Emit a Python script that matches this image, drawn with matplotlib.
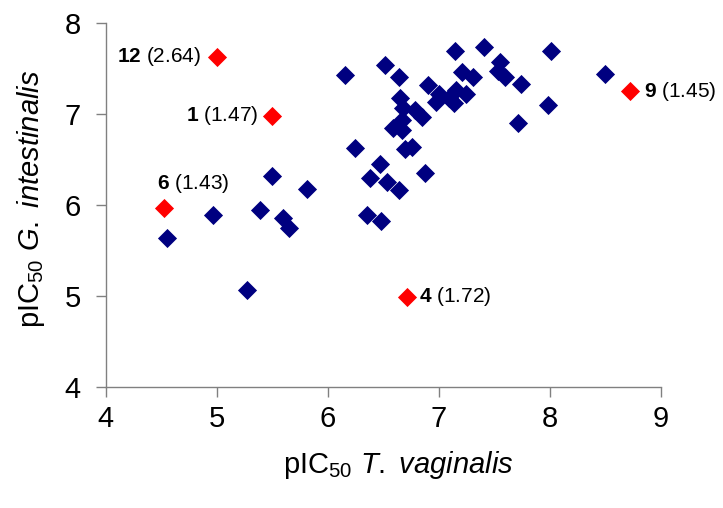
import matplotlib.pyplot as plt

plt.rcParams['font.family'] = ['Liberation Sans', 'DejaVu Sans']
plt.rcParams['mathtext.fontset'] = 'custom'
plt.rcParams['mathtext.rm'] = 'Liberation Sans'
plt.rcParams['mathtext.it'] = 'Liberation Sans:italic'
plt.rcParams['mathtext.bf'] = 'Liberation Sans:bold'

# other compounds (pIC50 T. vaginalis, pIC50 G. intestinalis)
tv = [6.16, 5.50, 5.81, 4.55, 4.97, 5.39, 5.60, 5.65, 5.27, 6.52,
      6.64, 7.15, 7.41, 7.55, 8.01, 7.21, 7.31, 7.53, 7.60, 7.74,
      7.98, 7.71, 6.90, 7.00, 6.98, 7.09, 7.16, 7.14, 7.25, 6.65,
      6.68, 6.79, 6.85, 6.59, 6.67, 6.67, 6.25, 6.70, 6.76, 6.47,
      6.38, 6.53, 6.64, 6.88, 6.35, 6.48, 8.50]
gi = [7.43, 6.32, 6.18, 5.64, 5.89, 5.94, 5.86, 5.75, 5.07, 7.54,
      7.41, 7.69, 7.73, 7.57, 7.69, 7.46, 7.41, 7.47, 7.40, 7.33,
      7.10, 6.90, 7.32, 7.22, 7.13, 7.17, 7.26, 7.12, 7.22, 7.18,
      7.06, 7.04, 6.97, 6.85, 6.82, 6.93, 6.63, 6.62, 6.64, 6.45,
      6.30, 6.25, 6.16, 6.35, 5.89, 5.82, 7.44]

# highlighted compounds
hl_ids = ['12', '1', '6', '4', '9']
hl_vals = ['2.64', '1.47', '1.43', '1.72', '1.45']
hl_tv = [5.00, 5.50, 4.53, 6.71, 8.72]
hl_gi = [7.63, 6.98, 5.97, 4.99, 7.25]

# label placement (offset in points, alignment)
label_pos = {
    '12': ((-11, 0), 'right', 'center'),
    '1': ((-10, 0), 'right', 'center'),
    '6': ((-5, 9), 'left', 'bottom'),
    '4': ((9, 0), 'left', 'center'),
    '9': ((10, 0), 'left', 'center'),
}

fig = plt.figure(figsize=(7.23, 5.08), dpi=100)
ax = fig.add_axes([0.146, 0.238, 0.768, 0.717])

ax.scatter(tv, gi, marker='D', s=95, color='#000080', linewidths=0, zorder=3)
ax.scatter(hl_tv, hl_gi, marker='D', s=95, color='#ff0000', linewidths=0, zorder=3)

for cid, val, x, y in zip(hl_ids, hl_vals, hl_tv, hl_gi):
    off, ha, va = label_pos[cid]
    ax.annotate(r'$\mathbf{' + cid + '}$ (' + val + ')', (x, y),
                xytext=off, textcoords='offset points',
                ha=ha, va=va, fontsize=15, color='black')

ax.set_xlim(4, 9)
ax.set_ylim(4, 8)
ax.set_xticks([4, 5, 6, 7, 8, 9])
ax.set_yticks([4, 5, 6, 7, 8])

for side in ['top', 'right']:
    ax.spines[side].set_visible(False)
for side in ['left', 'bottom']:
    ax.spines[side].set_color('#808080')
    ax.spines[side].set_linewidth(1.0)

ax.tick_params(axis='both', direction='out', length=7, width=1.0,
               color='#808080', labelsize=21)
ax.tick_params(axis='x', pad=6)
ax.tick_params(axis='y', pad=11)

ax.set_xlabel(r'pIC$_{50}$ $\mathit{T.}$ $\mathit{vaginalis}$', fontsize=21)
ax.set_ylabel(r'pIC$_{50}$ $\mathit{G.}$ $\mathit{intestinalis}$', fontsize=21)
ax.xaxis.set_label_coords(0.527, -0.235)
ax.xaxis.label.set_va('baseline')
ax.yaxis.set_label_coords(-0.134, 0.517)
ax.yaxis.label.set_va('center')

fig.savefig('out.png', dpi=100)
